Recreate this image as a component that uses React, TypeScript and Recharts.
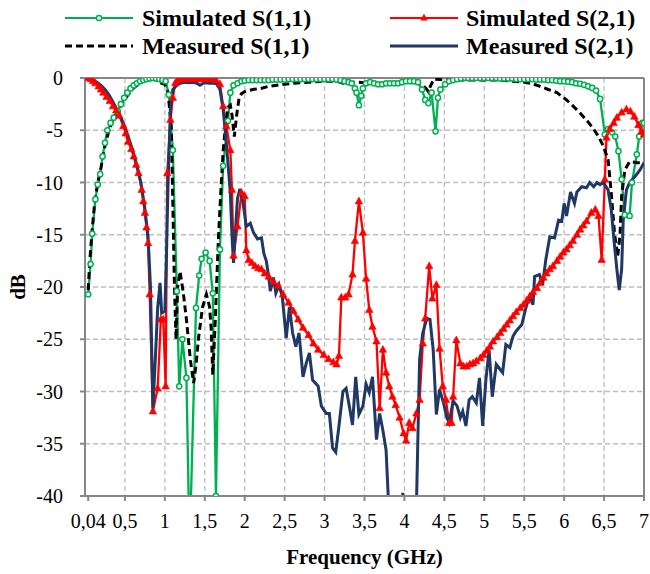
import React from 'react';
import { LineChart, Line, XAxis, YAxis, CartesianGrid, ReferenceLine } from 'recharts';

type Pt = [number, number];

// Frequency (GHz), dB
const simS11: Pt[] = [
  [0.04, -20.7], [0.07, -17.8], [0.09, -14.9], [0.13, -11.6], [0.16, -10.2], [0.19, -9.2], [0.22, -7.5],
  [0.25, -6.2], [0.28, -5.0], [0.32, -4.3], [0.36, -3.8], [0.41, -3.2], [0.45, -2.5], [0.49, -1.9],
  [0.53, -1.4], [0.57, -1.0], [0.61, -0.7], [0.65, -0.5], [0.69, -0.3], [0.73, -0.2], [0.77, -0.1],
  [0.81, -0.05], [0.85, 0], [0.89, -0.05], [0.93, -0.1], [0.97, -0.2], [1.01, -0.3], [1.05, -1.6],
  [1.1, -6.9], [1.15, -20.4], [1.18, -29.5], [1.22, -25.0], [1.27, -28.7], [1.31, -45], [1.39, -22.0],
  [1.43, -18.9], [1.46, -17.3], [1.51, -16.7], [1.56, -17.5], [1.6, -20.6], [1.64, -40], [1.69, -16.4],
  [1.73, -8.4], [1.79, -4.1], [1.82, -1.4], [1.86, -0.7], [1.91, -0.5], [1.96, -0.3], [2.0, -0.25],
  [2.05, -0.2], [2.1, -0.2], [2.15, -0.2], [2.2, -0.2], [2.25, -0.2], [2.3, -0.2], [2.35, -0.15],
  [2.4, -0.15], [2.45, -0.15], [2.5, -0.15], [2.55, -0.1], [2.6, -0.1], [2.65, -0.1], [2.7, -0.1],
  [2.75, -0.1], [2.8, -0.1], [2.85, -0.1], [2.9, -0.1], [2.95, -0.1], [3.0, -0.1], [3.05, -0.1],
  [3.1, -0.1], [3.15, -0.15], [3.2, -0.2], [3.25, -0.3], [3.3, -0.4], [3.34, -0.5], [3.38, -1.0],
  [3.4, -1.4], [3.43, -2.6], [3.46, -1.7], [3.48, -1.0], [3.52, -0.5], [3.57, -0.4], [3.62, -0.5],
  [3.67, -0.6], [3.72, -0.6], [3.77, -0.5], [3.82, -0.5], [3.87, -0.5], [3.92, -0.5], [3.97, -0.4],
  [4.02, -0.3], [4.07, -0.3], [4.12, -0.3], [4.17, -0.4], [4.22, -1.1], [4.26, -2.1], [4.3, -2.4],
  [4.34, -1.4], [4.39, -5.1], [4.42, -1.9], [4.45, -1.1], [4.51, -0.6], [4.56, -0.3], [4.61, -0.2],
  [4.66, -0.1], [4.71, -0.05], [4.76, 0], [4.8, 0], [4.85, 0], [4.9, 0], [4.95, 0], [5.0, 0],
  [5.05, 0], [5.1, 0], [5.15, 0], [5.2, -0.05], [5.25, -0.05], [5.3, -0.05], [5.35, -0.05], [5.4, -0.1],
  [5.45, -0.1], [5.5, -0.1], [5.55, -0.1], [5.6, -0.1], [5.65, -0.15], [5.7, -0.15], [5.75, -0.15],
  [5.8, -0.2], [5.85, -0.2], [5.9, -0.25], [5.95, -0.3], [6.0, -0.3], [6.05, -0.35], [6.1, -0.4],
  [6.15, -0.5], [6.2, -0.55], [6.25, -0.65], [6.3, -0.8], [6.35, -0.95], [6.4, -1.2], [6.45, -2.0],
  [6.51, -5.4], [6.55, -4.9], [6.6, -5.2], [6.64, -5.6], [6.68, -7.0], [6.72, -9.7], [6.76, -13.1],
  [6.82, -13.2], [6.85, -10.0], [6.91, -7.3], [6.94, -5.6], [6.98, -4.3], [7.0, -4.3],
];

const simS21: Pt[] = [
  [0.04, 0], [0.07, -0.1], [0.1, -0.3], [0.13, -0.5], [0.17, -0.8], [0.2, -1.1], [0.23, -1.4],
  [0.27, -1.8], [0.31, -2.2], [0.35, -2.7], [0.39, -3.1], [0.43, -3.6], [0.48, -4.6], [0.51, -5.3],
  [0.54, -6.1], [0.58, -6.8], [0.61, -7.5], [0.64, -8.3], [0.67, -9.1], [0.71, -10.7], [0.73, -11.8],
  [0.75, -12.9], [0.77, -14.3], [0.79, -15.8], [0.81, -20.7], [0.85, -31.9], [0.91, -29.7], [0.95, -23.1],
  [0.98, -23.1], [1.01, -29.5], [1.03, -9.1], [1.07, -4.0], [1.1, -1.9], [1.13, -0.5], [1.16, -0.2],
  [1.2, -0.1], [1.24, -0.1], [1.28, -0.1], [1.32, -0.1], [1.36, -0.1], [1.4, -0.1], [1.44, -0.1],
  [1.48, -0.1], [1.52, -0.1], [1.56, -0.1], [1.6, -0.1], [1.64, -0.2], [1.69, -0.6], [1.73, -2.7],
  [1.77, -4.6], [1.82, -6.9], [1.84, -10.7], [1.86, -17.0], [1.91, -14.2], [1.96, -11.0], [2.0, -11.3],
  [2.02, -16.5], [2.05, -17.4], [2.09, -17.7], [2.13, -18.0], [2.17, -18.2], [2.21, -18.3], [2.25, -18.7],
  [2.3, -19.0], [2.36, -19.5], [2.42, -19.9], [2.48, -20.7], [2.55, -21.5], [2.61, -22.3], [2.67, -23.1],
  [2.73, -23.9], [2.8, -24.6], [2.86, -25.4], [2.92, -26.0], [2.99, -26.5], [3.05, -26.9], [3.11, -27.2],
  [3.15, -27.4], [3.18, -26.6], [3.21, -21.0], [3.26, -21.0], [3.3, -20.7], [3.35, -18.8], [3.38, -15.6],
  [3.43, -11.8], [3.48, -14.8], [3.52, -19.2], [3.56, -22.2], [3.6, -23.8], [3.65, -25.2], [3.69, -31.6],
  [3.73, -26.0], [3.77, -28.2], [3.81, -29.5], [3.85, -30.5], [3.89, -31.3], [3.94, -32.5], [3.99, -34.0],
  [4.02, -34.7], [4.06, -33.0], [4.1, -33.5], [4.15, -32.1], [4.19, -30.8], [4.23, -25.4], [4.26, -23.0],
  [4.31, -18.0], [4.35, -21.1], [4.4, -19.8], [4.44, -25.9], [4.48, -29.5], [4.52, -30.8], [4.56, -33.0],
  [4.59, -33.0], [4.61, -30.5], [4.65, -25.1], [4.7, -27.3], [4.74, -27.6], [4.78, -27.6], [4.82, -27.4],
  [4.86, -27.3], [4.9, -27.1], [4.95, -26.8], [4.99, -26.5], [5.03, -26.1], [5.07, -25.7], [5.11, -25.2],
  [5.16, -24.8], [5.2, -24.4], [5.24, -24.0], [5.28, -23.6], [5.32, -23.2], [5.36, -22.8], [5.4, -22.4],
  [5.45, -22.0], [5.49, -21.7], [5.53, -21.3], [5.57, -20.9], [5.61, -20.5], [5.66, -20.1], [5.7, -19.6],
  [5.74, -19.1], [5.78, -18.7], [5.82, -18.3], [5.86, -18.0], [5.91, -17.5], [5.95, -17.1], [5.99, -16.7],
  [6.03, -16.4], [6.07, -16.0], [6.11, -15.6], [6.16, -15.0], [6.2, -14.5], [6.24, -14.1], [6.28, -13.7],
  [6.34, -12.9], [6.39, -12.6], [6.43, -13.2], [6.47, -17.4], [6.51, -9.7], [6.53, -5.7], [6.57, -4.9],
  [6.62, -4.3], [6.66, -3.8], [6.72, -3.3], [6.78, -3.0], [6.83, -3.2], [6.88, -3.7], [6.93, -4.5],
  [6.97, -5.1], [7.0, -5.4],
];

const measS11: Pt[] = [
  [0.04, -20.3], [0.06, -17.5], [0.09, -14.5], [0.12, -12.0], [0.16, -10.0], [0.2, -8.6], [0.25, -6.5],
  [0.3, -5.0], [0.35, -4.0], [0.4, -3.3], [0.45, -2.6], [0.5, -2.0], [0.55, -1.5], [0.6, -1.0],
  [0.65, -0.7], [0.7, -0.4], [0.75, -0.2], [0.8, -0.1], [0.85, 0], [0.88, -0.1], [0.92, -0.4],
  [0.96, -0.5], [1.0, -0.6], [1.04, -1.4], [1.08, -4.6], [1.1, -12.0], [1.12, -20.0], [1.14, -25.0],
  [1.16, -20.0], [1.19, -18.5], [1.23, -20.5], [1.27, -23.1], [1.32, -27.0], [1.36, -29.2], [1.39, -27.5],
  [1.42, -25.0], [1.47, -22.0], [1.52, -20.7], [1.56, -21.9], [1.58, -24.0], [1.6, -28.4], [1.63, -23.4],
  [1.67, -15.5], [1.7, -11.0], [1.73, -7.0], [1.76, -4.5], [1.79, -2.8], [1.82, -2.6], [1.84, -3.5],
  [1.87, -5.6], [1.9, -3.5], [1.93, -1.9], [1.96, -1.5], [2.0, -1.3], [2.1, -1.1], [2.2, -1.0],
  [2.3, -0.8], [2.4, -0.7], [2.5, -0.6], [2.6, -0.5], [2.7, -0.45], [2.8, -0.4], [2.9, -0.35],
  [3.0, -0.3], [3.1, -0.3], [3.17, -0.35], [3.23, -0.5], [3.3, -0.45], [3.4, -0.4], [3.5, -0.45],
  [3.6, -0.5], [3.7, -0.5], [3.8, -0.45], [3.9, -0.4], [4.0, -0.4], [4.1, -0.4], [4.18, -0.5],
  [4.23, -0.7], [4.27, -1.0], [4.3, -1.3], [4.33, -0.7], [4.37, -0.1], [4.45, -0.15], [4.6, -0.2],
  [4.8, -0.2], [5.0, -0.2], [5.2, -0.2], [5.35, -0.3], [5.5, -0.4], [5.6, -0.55], [5.7, -0.8],
  [5.8, -1.1], [5.91, -1.4], [6.03, -2.1], [6.1, -2.6], [6.2, -3.35], [6.3, -4.2], [6.37, -4.9],
  [6.43, -5.6], [6.49, -6.5], [6.55, -7.8], [6.59, -11.0], [6.63, -14.8], [6.67, -17.1], [6.7, -15.0],
  [6.72, -11.3], [6.76, -8.8], [6.82, -8.0], [6.91, -8.1], [7.0, -8.1],
];

const measS21: Pt[] = [
  [0.04, -0.1], [0.1, -0.2], [0.15, -0.4], [0.2, -0.7], [0.25, -1.1], [0.3, -1.6], [0.35, -2.3],
  [0.4, -3.0], [0.45, -3.8], [0.5, -4.7], [0.55, -5.8], [0.6, -7.0], [0.65, -8.4], [0.7, -10.0],
  [0.75, -12.5], [0.79, -15.2], [0.82, -20.0], [0.85, -31.6], [0.88, -27.0], [0.91, -22.0], [0.94, -19.6],
  [0.96, -22.5], [1.0, -22.3], [1.02, -17.0], [1.04, -10.0], [1.07, -3.0], [1.1, -1.1], [1.15, -0.7],
  [1.19, -0.5], [1.25, -0.4], [1.3, -0.45], [1.35, -0.4], [1.4, -0.5], [1.44, -0.7], [1.48, -0.5],
  [1.52, -0.45], [1.56, -0.5], [1.6, -0.5], [1.65, -0.55], [1.69, -1.1], [1.73, -3.0], [1.77, -6.2],
  [1.82, -11.0], [1.84, -15.0], [1.86, -17.7], [1.88, -15.0], [1.91, -11.5], [1.94, -10.6], [1.98, -12.0],
  [2.02, -14.2], [2.07, -13.9], [2.11, -14.8], [2.16, -15.4], [2.21, -15.3], [2.24, -16.8], [2.27, -17.5],
  [2.3, -19.0], [2.32, -20.4], [2.36, -19.1], [2.39, -20.6], [2.43, -19.8], [2.47, -20.9], [2.52, -24.9],
  [2.56, -21.9], [2.6, -24.4], [2.64, -25.7], [2.68, -24.4], [2.73, -28.6], [2.77, -27.3], [2.81, -26.3],
  [2.85, -28.9], [2.92, -29.5], [2.96, -31.4], [3.02, -32.1], [3.06, -32.1], [3.1, -35.4], [3.14, -35.8],
  [3.18, -33.3], [3.23, -30.0], [3.27, -29.7], [3.31, -31.4], [3.35, -33.2], [3.39, -28.6], [3.43, -32.2],
  [3.48, -31.4], [3.52, -29.3], [3.56, -30.1], [3.6, -28.6], [3.65, -34.6], [3.69, -32.1], [3.73, -33.7],
  [3.77, -35.6], [3.8, -40.5], [3.85, -48.0], [3.92, -46.0], [3.98, -39.7], [4.03, -47.0], [4.1, -48.0],
  [4.15, -41.0], [4.19, -26.9], [4.23, -24.4], [4.28, -23.0], [4.32, -23.1], [4.36, -26.0], [4.4, -32.2],
  [4.44, -29.8], [4.49, -31.1], [4.53, -32.5], [4.56, -33.0], [4.61, -30.9], [4.66, -31.4], [4.7, -32.5],
  [4.73, -31.9], [4.77, -33.3], [4.81, -30.8], [4.85, -30.5], [4.9, -31.1], [4.94, -28.7], [4.98, -33.3],
  [5.02, -28.9], [5.06, -26.0], [5.1, -30.5], [5.15, -27.4], [5.19, -27.8], [5.23, -28.2], [5.27, -25.5],
  [5.32, -25.8], [5.36, -24.7], [5.4, -24.2], [5.47, -23.6], [5.51, -22.3], [5.54, -21.5], [5.57, -20.9],
  [5.61, -21.7], [5.63, -19.0], [5.69, -18.8], [5.73, -19.8], [5.77, -17.4], [5.82, -15.2], [5.88, -15.3],
  [5.93, -13.6], [5.97, -13.7], [6.0, -12.0], [6.03, -13.2], [6.08, -10.9], [6.13, -12.0], [6.16, -10.9],
  [6.22, -10.4], [6.28, -10.5], [6.32, -10.0], [6.37, -10.4], [6.41, -10.0], [6.45, -10.2], [6.49, -10.0],
  [6.55, -10.7], [6.59, -12.6], [6.62, -15.2], [6.66, -18.3], [6.69, -20.3], [6.72, -18.3], [6.74, -13.6],
  [6.78, -10.7], [6.82, -10.0], [6.89, -9.4], [6.95, -8.8], [7.0, -8.1],
];

const xTicks = [0.04, 0.5, 1, 1.5, 2, 2.5, 3, 3.5, 4, 4.5, 5, 5.5, 6, 6.5, 7];
const xGrid = [0.5, 1, 1.5, 2, 2.5, 3, 3.5, 4, 4.5, 5, 5.5, 6, 6.5];
const yTicks = [0, -5, -10, -15, -20, -25, -30, -35, -40];
const yGrid = [-5, -10, -15, -20, -25, -30, -35];

const legendItems = [
  { name: 'Simulated S(1,1)', color: '#00B050', kind: 'circle' },
  { name: 'Simulated S(2,1)', color: '#FF0000', kind: 'triangle' },
  { name: 'Measured S(1,1)', color: '#000000', kind: 'dash' },
  { name: 'Measured S(2,1)', color: '#1F3864', kind: 'solid' },
];

const rows = (pts: Pt[]) => pts.map(([f, db]) => ({ f, db }));

const FONT = '"Liberation Serif", "Times New Roman", serif';
const AXIS = '#868686';

const Triangle = (p: any) => {
  if (p.cx == null || p.cy == null) return <g key={p.index} />;
  const { cx, cy } = p;
  return (
    <path
      key={p.index}
      d={`M${cx},${cy - 4.2} L${cx + 3.7},${cy + 2.6} L${cx - 3.7},${cy + 2.6} Z`}
      fill="#FF0000"
      stroke="#FF0000"
      strokeWidth={0.6}
    />
  );
};

const fmtX = (v: number) => String(v).replace('.', ',');

export default function App() {
  const legendPos = [
    { x0: 65, x1: 133, tx: 142, y: 18 },
    { x0: 390, x1: 458, tx: 466, y: 18 },
    { x0: 65, x1: 133, tx: 142, y: 46 },
    { x0: 390, x1: 458, tx: 466, y: 46 },
  ];
  return (
    <div style={{ position: 'absolute', left: 0, top: 0, width: 650, height: 574, background: '#fff' }}>
      <LineChart width={650} height={574} margin={{ top: 78, right: 6, bottom: 38, left: 25 }}>
        <CartesianGrid
          stroke="#BFBFBF"
          strokeWidth={1.3}
          strokeDasharray="5 3"
          horizontalValues={yGrid}
          verticalValues={xGrid}
        />
        <XAxis
          type="number"
          dataKey="f"
          domain={[0, 7]}
          ticks={xTicks}
          tickFormatter={fmtX}
          allowDataOverflow
          height={40}
          tickSize={5}
          tickMargin={13}
          stroke={AXIS}
          strokeWidth={2}
          tick={{ fill: '#000', fontSize: 20, fontFamily: FONT }}
          interval={0}
        />
        <YAxis
          type="number"
          domain={[-40, 0]}
          ticks={yTicks}
          allowDataOverflow
          width={60}
          tickSize={5}
          tickMargin={17}
          stroke={AXIS}
          strokeWidth={2}
          tick={{ fill: '#000', fontSize: 20, fontFamily: FONT }}
          interval={0}
        />
        <ReferenceLine y={0} stroke={AXIS} strokeWidth={2} />
        <ReferenceLine x={7} stroke={AXIS} strokeWidth={2} />
        <Line
          data={rows(simS11)}
          dataKey="db"
          type="linear"
          stroke="#00B050"
          strokeWidth={2.3}
          dot={{ r: 2.6, fill: '#fff', stroke: '#00B050', strokeWidth: 1.5 }}
          activeDot={false}
          isAnimationActive={false}
        />
        <Line
          data={rows(simS21)}
          dataKey="db"
          type="linear"
          stroke="#FF0000"
          strokeWidth={2.3}
          dot={Triangle}
          activeDot={false}
          isAnimationActive={false}
        />
        <Line
          data={rows(measS11)}
          dataKey="db"
          type="linear"
          stroke="#000000"
          strokeWidth={3}
          strokeDasharray="7 4"
          dot={false}
          activeDot={false}
          isAnimationActive={false}
        />
        <Line
          data={rows(measS21)}
          dataKey="db"
          type="linear"
          stroke="#1F3864"
          strokeWidth={3}
          dot={false}
          activeDot={false}
          isAnimationActive={false}
        />
      </LineChart>
      <svg
        width={650}
        height={574}
        style={{ position: 'absolute', left: 0, top: 0, pointerEvents: 'none' }}
      >
        {legendItems.map((it, i) => {
          const p = legendPos[i];
          const mid = (p.x0 + p.x1) / 2;
          return (
            <g key={it.name}>
              <line
                x1={p.x0}
                x2={p.x1}
                y1={p.y}
                y2={p.y}
                stroke={it.color}
                strokeWidth={it.kind === 'dash' || it.kind === 'solid' ? 3 : 2.2}
                strokeDasharray={it.kind === 'dash' ? '7 4' : undefined}
              />
              {it.kind === 'circle' && (
                <circle cx={mid} cy={p.y} r={2.6} fill="#fff" stroke={it.color} strokeWidth={1.5} />
              )}
              {it.kind === 'triangle' && (
                <path
                  d={`M${mid},${p.y - 4.2} L${mid + 3.7},${p.y + 2.6} L${mid - 3.7},${p.y + 2.6} Z`}
                  fill={it.color}
                />
              )}
              <text x={p.tx} y={p.y + 8} fontFamily={FONT} fontWeight="bold" fontSize={24} fill="#000">
                {it.name}
              </text>
            </g>
          );
        })}
        <text x={364.5} y={564} textAnchor="middle" fontFamily={FONT} fontWeight="bold" fontSize={21} fill="#000">
          Frequency (GHz)
        </text>
        <text
          transform="translate(25,287) rotate(-90)"
          textAnchor="middle"
          fontFamily={FONT}
          fontWeight="bold"
          fontSize={21}
          fill="#000"
        >
          dB
        </text>
      </svg>
    </div>
  );
}
